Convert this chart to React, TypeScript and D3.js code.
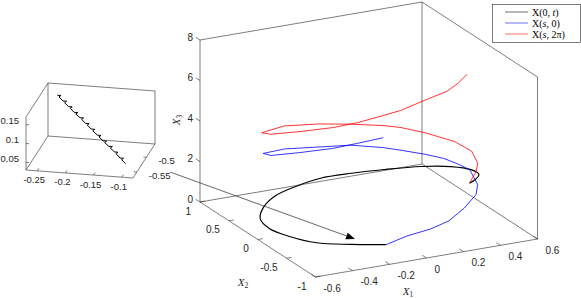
import React from 'react';
import * as d3 from 'd3';

// main axes limits and ticks
const x1Domain: [number, number] = [-0.6, 0.6];
const x2Domain: [number, number] = [-1, 1];
const x3Domain: [number, number] = [0, 8];
const x1Ticks = [-0.6, -0.4, -0.2, 0, 0.2, 0.4, 0.6];
const x2Ticks = [-1, -0.5, 0, 0.5, 1];
const x3Ticks = [0, 2, 4, 6, 8];

// X(0,t)
const blackX1 = [-0.09, -0.26, -0.41, -0.50, -0.55, -0.54, -0.47, -0.36, -0.22, -0.08, 0.07, 0.22, 0.38, 0.49, 0.54, 0.53, 0.47, 0.41];
const blackX2 = [-0.59, -0.51, -0.41, -0.23, -0.04, 0.15, 0.32, 0.47, 0.55, 0.58, 0.52, 0.43, 0.31, 0.15, -0.04, -0.21, -0.34, -0.43];
const blackX3 = [0.04, 0.17, 0.3, 0.42, 0.54, 0.66, 0.78, 0.9, 1.02, 1.14, 1.26, 1.38, 1.5, 1.62, 1.74, 1.84, 1.92, 2.0];

// X(s,0)
const blueX1 = [-0.09, 0.04, 0.17, 0.28, 0.41, 0.53, 0.57, 0.58, 0.54, 0.49, 0.41, 0.31, 0.23, 0.06, -0.14, -0.35, -0.53, -0.55, -0.45, -0.32, -0.22, -0.10];
const blueX2 = [-0.59, -0.53, -0.53, -0.49, -0.34, -0.16, -0.06, 0.11, 0.19, 0.27, 0.34, 0.42, 0.48, 0.50, 0.43, 0.34, 0.13, -0.07, -0.24, -0.40, -0.49, -0.57];
const blueX3 = [0.04, 0.15, 0.3, 0.45, 0.6, 0.75, 1.0, 1.4, 1.6, 1.8, 2.0, 2.2, 2.35, 2.7, 3.05, 3.45, 3.9, 4.2, 4.5, 4.8, 5.05, 5.3];

// X(s,2pi)
const redX1 = [0.41, 0.49, 0.53, 0.55, 0.50, 0.39, 0.29, 0.21, 0.03, -0.16, -0.38, -0.56, -0.56, -0.45, -0.32, -0.21, -0.09, 0.0, 0.14, 0.28, 0.37, 0.45];
const redX2 = [-0.43, -0.29, -0.19, -0.02, 0.12, 0.29, 0.37, 0.41, 0.41, 0.36, 0.25, 0.06, -0.09, -0.27, -0.41, -0.48, -0.53, -0.55, -0.51, -0.46, -0.37, -0.26];
const redX3 = [2.0, 2.2, 2.35, 2.6, 2.9, 3.2, 3.45, 3.6, 3.95, 4.35, 4.8, 5.1, 5.3, 5.6, 5.85, 6.05, 6.3, 6.45, 6.65, 6.8, 6.9, 7.0];

// zoomed inset
const insetX1Domain: [number, number] = [-0.27, -0.08];
const insetX2Domain: [number, number] = [-0.57, -0.455];
const insetX3Domain: [number, number] = [0.03, 0.17];
const insetX1Ticks = [-0.25, -0.2, -0.15, -0.1];
const insetX2Ticks = [-0.55, -0.5];
const insetX3Ticks = [0.05, 0.1, 0.15];
const zoomX1 = [
    -0.245, -0.2382, -0.2414, -0.233, -0.2262, -0.2294, -0.221, -0.2142, -0.2174, -0.209, -0.2022, -0.2054,
    -0.197, -0.1902, -0.1934, -0.185, -0.1782, -0.1814, -0.173, -0.1662, -0.1694, -0.160, -0.1532, -0.1564,
    -0.148, -0.1412, -0.1444, -0.136, -0.1292, -0.1324, -0.124, -0.1172, -0.1204, -0.112, -0.1052, -0.1084, -0.100];
const zoomX2 = [
    -0.480, -0.4809, -0.4818, -0.486, -0.4869, -0.4878, -0.492, -0.4929, -0.4938, -0.498, -0.4989, -0.4998,
    -0.503, -0.5039, -0.5048, -0.509, -0.5099, -0.5108, -0.515, -0.5159, -0.5168, -0.521, -0.5219, -0.5228,
    -0.527, -0.5279, -0.5288, -0.532, -0.5329, -0.5338, -0.538, -0.5389, -0.5398, -0.544, -0.5449, -0.5458, -0.550];
const zoomX3 = [
    0.160, 0.1607, 0.1573, 0.151, 0.1517, 0.1483, 0.142, 0.1427, 0.1393, 0.133, 0.1337, 0.1303,
    0.124, 0.1247, 0.1213, 0.115, 0.1157, 0.1123, 0.106, 0.1067, 0.1033, 0.096, 0.0967, 0.0933,
    0.087, 0.0877, 0.0843, 0.078, 0.0787, 0.0753, 0.069, 0.0697, 0.0663, 0.059, 0.0597, 0.0563, 0.050];

const legendLabels = [
    { pre: 'X(0, ', it: 't', post: ')', color: '#000000' },
    { pre: 'X(', it: 's', post: ', 0)', color: '#0000ff' },
    { pre: 'X(', it: 's', post: ', 2π)', color: '#ff0000' },
];

type Pt = [number, number];
type P3 = [number, number, number];

const axisColor = '#262626';
const tickFont = '"Liberation Sans", Arial, sans-serif';
const mathFont = '"Liberation Serif", "Times New Roman", serif';

function makeProjection(d1: [number, number], d2: [number, number], d3d: [number, number],
    origin: Pt, v1: Pt, v2: Pt, v3: Pt) {
    const s1 = d3.scaleLinear().domain(d1).range([0, 1]);
    const s2 = d3.scaleLinear().domain(d2).range([0, 1]);
    const s3 = d3.scaleLinear().domain(d3d).range([0, 1]);
    return (p: P3): Pt => {
        const u = s1(p[0]), v = s2(p[1]), w = s3(p[2]);
        return [
            origin[0] + u * v1[0] + v * v2[0] + w * v3[0],
            origin[1] + u * v1[1] + v * v2[1] + w * v3[1],
        ];
    };
}

const unit = (v: Pt, len: number): Pt => {
    const n = Math.hypot(v[0], v[1]);
    return [v[0] / n * len, v[1] / n * len];
};

const zip3 = (a: number[], b: number[], c: number[]): P3[] => a.map((d, i) => [d, b[i], c[i]]);

// main axes geometry (pixel placement of the box)
const mainV1: Pt = [222, -38];
const mainV2: Pt = [-115.5, -75];
const mainV3: Pt = [0, -162];
const proj = makeProjection(x1Domain, x2Domain, x3Domain, [315.5, 277], mainV1, mainV2, mainV3);

const insV1: Pt = [107, 8];
const insV2: Pt = [22, -34];
const insV3: Pt = [0, -53];
const iproj = makeProjection(insetX1Domain, insetX2Domain, insetX3Domain, [26, 170], insV1, insV2, insV3);

const corner = (code: string, d1: [number, number], d2: [number, number], d3d: [number, number]): P3 =>
    [d1[+code[0]], d2[+code[1]], d3d[+code[2]]];

const mainEdges = [['000', '100'], ['000', '010'], ['010', '011'], ['010', '110'], ['110', '100'],
    ['110', '111'], ['100', '101'], ['011', '111'], ['111', '101']];
const insetEdges = [['000', '100'], ['100', '110'], ['000', '001'], ['000', '010'], ['010', '110'],
    ['010', '011'], ['001', '011'], ['011', '111'], ['111', '110']];

const fmt = (v: number) => (Object.is(v, -0) ? '0' : String(v));

const X = ({ x, y, sub, rotate }: { x: number, y: number, sub: string, rotate?: boolean }) => (
    <text x={x} y={y} fontFamily={mathFont} fontSize={11} fill={axisColor} textAnchor="middle"
        dominantBaseline="central" transform={rotate ? `rotate(-90 ${x} ${y})` : undefined}>
        <tspan fontStyle="italic">X</tspan>
        <tspan fontSize={7.5} dy={3}>{sub}</tspan>
    </text>
);

const App: React.FC = () => {
    const line = (pr: (p: P3) => Pt, curve: d3.CurveFactory) => d3.line<P3>()
        .x(p => pr(p)[0])
        .y(p => pr(p)[1])
        .curve(curve);

    const blackPath = line(proj, d3.curveCatmullRom)(zip3(blackX1, blackX2, blackX3)) || '';
    const bluePath = line(proj, d3.curveLinear)(zip3(blueX1, blueX2, blueX3)) || '';
    const redPath = line(proj, d3.curveLinear)(zip3(redX1, redX2, redX3)) || '';
    const zoomPath = line(iproj, d3.curveLinear)(zip3(zoomX1, zoomX2, zoomX3)) || '';

    const mainTickV1 = unit(mainV1, 5);
    const mainTickV2 = unit(mainV2, 5);
    const insTickV1 = unit(insV1, 3);
    const insTickV2 = unit(insV2, 3);

    // annotation arrow from inset to zoomed region
    const arrowFrom: Pt = [170, 172];
    const arrowTo: Pt = [355, 239];
    const dir = unit([arrowTo[0] - arrowFrom[0], arrowTo[1] - arrowFrom[1]], 1);
    const headLen = 9, headW = 3.5;
    const hb: Pt = [arrowTo[0] - dir[0] * headLen, arrowTo[1] - dir[1] * headLen];
    const head = [arrowTo, [hb[0] - dir[1] * headW, hb[1] + dir[0] * headW], [hb[0] + dir[1] * headW, hb[1] - dir[0] * headW]]
        .map(p => p.join(',')).join(' ');

    return (
        <svg width={581} height={298} viewBox="0 0 581 298"
            style={{ position: 'absolute', left: 0, top: 0, background: '#ffffff' }}>
            {/* main box */}
            <g stroke={axisColor} strokeWidth={0.6} fill="none">
                {mainEdges.map(([a, b], i) => {
                    const p = proj(corner(a, x1Domain, x2Domain, x3Domain));
                    const q = proj(corner(b, x1Domain, x2Domain, x3Domain));
                    return <line key={i} x1={p[0]} y1={p[1]} x2={q[0]} y2={q[1]} />;
                })}
                {x1Ticks.map(t => {
                    const p = proj([t, x2Domain[0], x3Domain[0]]);
                    return <line key={'a' + t} x1={p[0]} y1={p[1]} x2={p[0] + mainTickV2[0]} y2={p[1] + mainTickV2[1]} />;
                })}
                {x2Ticks.map(t => {
                    const p = proj([x1Domain[0], t, x3Domain[0]]);
                    return <line key={'b' + t} x1={p[0]} y1={p[1]} x2={p[0] + mainTickV1[0]} y2={p[1] + mainTickV1[1]} />;
                })}
                {x3Ticks.map(t => {
                    const p = proj([x1Domain[0], x2Domain[1], t]);
                    return <line key={'c' + t} x1={p[0]} y1={p[1]} x2={p[0] + mainTickV2[0]} y2={p[1] + mainTickV2[1]} />;
                })}
            </g>
            <g fontFamily={tickFont} fontSize={10} fill={axisColor}>
                {x1Ticks.map(t => {
                    const p = proj([t, x2Domain[0], x3Domain[0]]);
                    return <text key={'a' + t} x={p[0] + 8} y={p[1] + 11} dominantBaseline="central">{fmt(t)}</text>;
                })}
                {x2Ticks.map(t => {
                    const p = proj([x1Domain[0], t, x3Domain[0]]);
                    return <text key={'b' + t} x={p[0] - 9} y={p[1] + 9} textAnchor="end" dominantBaseline="central">{fmt(t)}</text>;
                })}
                {x3Ticks.map(t => {
                    const p = proj([x1Domain[0], x2Domain[1], t]);
                    return <text key={'c' + t} x={p[0] - 7} y={p[1] - 3} textAnchor="end" dominantBaseline="central">{fmt(t)}</text>;
                })}
            </g>
            <X x={408} y={291} sub="1" />
            <X x={243} y={282} sub="2" />
            <X x={176} y={120} sub="3" rotate />

            {/* curves */}
            <path d={blackPath} fill="none" stroke="#000000" strokeWidth={1.15} />
            <path d={bluePath} fill="none" stroke="#0000ff" strokeWidth={0.8} />
            <path d={redPath} fill="none" stroke="#ff0000" strokeWidth={0.8} />

            {/* inset axes */}
            <g stroke={axisColor} strokeWidth={0.6} fill="none">
                {insetEdges.map(([a, b], i) => {
                    const p = iproj(corner(a, insetX1Domain, insetX2Domain, insetX3Domain));
                    const q = iproj(corner(b, insetX1Domain, insetX2Domain, insetX3Domain));
                    return <line key={i} x1={p[0]} y1={p[1]} x2={q[0]} y2={q[1]} />;
                })}
                {insetX1Ticks.map(t => {
                    const p = iproj([t, insetX2Domain[0], insetX3Domain[0]]);
                    return <line key={'a' + t} x1={p[0]} y1={p[1]} x2={p[0] + insTickV2[0]} y2={p[1] + insTickV2[1]} />;
                })}
                {insetX2Ticks.map(t => {
                    const p = iproj([insetX1Domain[1], t, insetX3Domain[0]]);
                    return <line key={'b' + t} x1={p[0]} y1={p[1]} x2={p[0] - insTickV1[0]} y2={p[1] - insTickV1[1]} />;
                })}
                {insetX3Ticks.map(t => {
                    const p = iproj([insetX1Domain[0], insetX2Domain[0], t]);
                    return <line key={'c' + t} x1={p[0]} y1={p[1]} x2={p[0] + insTickV1[0]} y2={p[1] + insTickV1[1]} />;
                })}
            </g>
            <g fontFamily={tickFont} fontSize={9.5} fill={axisColor}>
                {insetX1Ticks.map(t => {
                    const p = iproj([t, insetX2Domain[0], insetX3Domain[0]]);
                    return <text key={'a' + t} x={p[0] - 3} y={p[1] + 9} textAnchor="middle" dominantBaseline="central">{fmt(t)}</text>;
                })}
                {insetX2Ticks.map(t => {
                    const p = iproj([insetX1Domain[1], t, insetX3Domain[0]]);
                    return <text key={'b' + t} x={p[0] + 12} y={p[1] + 3} dominantBaseline="central">{fmt(t)}</text>;
                })}
                {insetX3Ticks.map(t => {
                    const p = iproj([insetX1Domain[0], insetX2Domain[0], t]);
                    return <text key={'c' + t} x={p[0] - 7} y={p[1] - 4} textAnchor="end" dominantBaseline="central">{fmt(t)}</text>;
                })}
            </g>
            <path d={zoomPath} fill="none" stroke="#000000" strokeWidth={1} />

            {/* annotation arrow */}
            <line x1={arrowFrom[0]} y1={arrowFrom[1]} x2={hb[0]} y2={hb[1]} stroke={axisColor} strokeWidth={0.7} />
            <polygon points={head} fill="#000000" />

            {/* legend */}
            <rect x={492.5} y={4.5} width={88} height={38} fill="#ffffff" stroke={axisColor} strokeWidth={0.6} />
            {legendLabels.map((l, i) => {
                const y = 12 + i * 11;
                return (
                    <g key={i}>
                        <line x1={505} x2={528} y1={y} y2={y} stroke={l.color} strokeWidth={1.4} strokeOpacity={0.4} />
                        <text x={532} y={y} fontFamily={mathFont} fontSize={10} fill="#000000" dominantBaseline="central">
                            {l.pre}<tspan fontStyle="italic">{l.it}</tspan>{l.post}
                        </text>
                    </g>
                );
            })}
        </svg>
    );
};

export default App;
